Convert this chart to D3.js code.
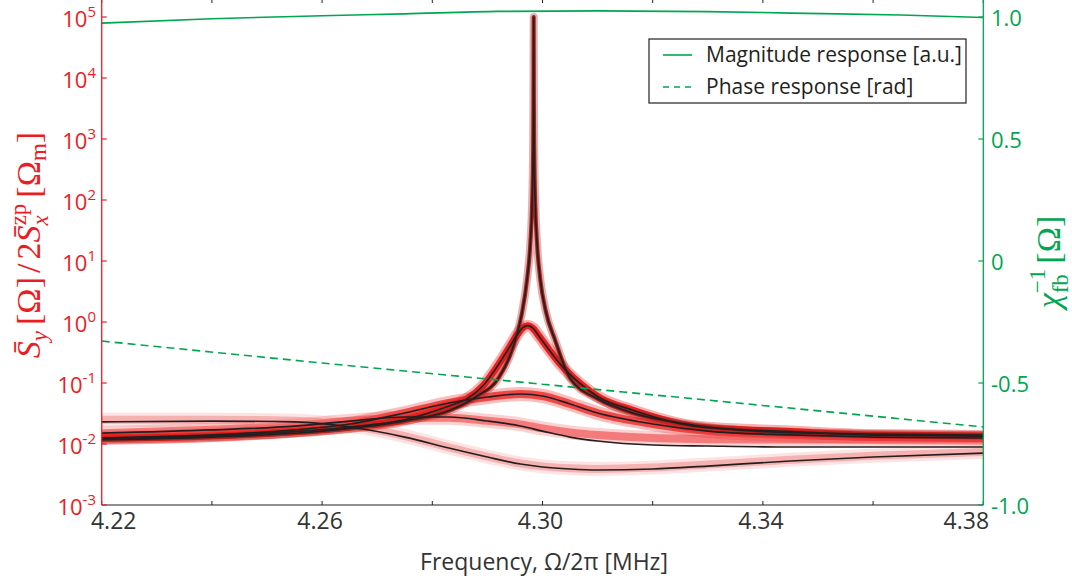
<!DOCTYPE html>
<html><head><meta charset="utf-8">
<script src="https://cdn.jsdelivr.net/npm/d3@7"></script>
<style>body{margin:0;background:#fff}svg{display:block}</style>
</head><body><svg id="c" width="1072" height="583"></svg>
<script>
// ---------- data ----------
const xTicks = [4.22, 4.24, 4.26, 4.28, 4.30, 4.32, 4.34, 4.36, 4.38];
const xTickLabels = ["4.22", "", "4.26", "", "4.30", "", "4.34", "", "4.38"];
const leftExponents = [-3, -2, -1, 0, 1, 2, 3, 4, 5];
const rightTicks = [-1, -0.5, 0, 0.5, 1];
const rightTickLabels = ["-1.0", "-0.5", "0", "0.5", "1.0"];
const legendNames = ["Magnitude response [a.u.]", "Phase response [rad]"];

const gridFreq = [4.22, 4.24, 4.255, 4.265, 4.275, 4.283, 4.29, 4.296, 4.30, 4.305, 4.31, 4.32, 4.33, 4.345, 4.36, 4.38];
const fitE  = [0.0230, 0.0238, 0.0230, 0.0190, 0.0130, 0.00859, 0.00612, 0.00470, 0.00420, 0.00389, 0.00375, 0.00389, 0.00435, 0.00526, 0.00612, 0.00711];
const dataE = [0.025, 0.025, 0.024, 0.020, 0.0135, 0.0088, 0.0062, 0.0048, 0.0043, 0.0040, 0.0039, 0.0041, 0.0046, 0.0055, 0.0064, 0.0074];
const fitD  = [0.0151, 0.0170, 0.0197, 0.0238, 0.0277, 0.0277, 0.0238, 0.0197, 0.0163, 0.0130, 0.0112, 0.00963, 0.00927, 0.00893, 0.00893, 0.00893];
const dataD = [0.0150, 0.0172, 0.020, 0.024, 0.027, 0.027, 0.024, 0.021, 0.018, 0.0155, 0.014, 0.0125, 0.012, 0.0118, 0.0118, 0.0118];
const fitC  = [0.01253, 0.01406, 0.0170, 0.0213, 0.0322, 0.0470, 0.0589, 0.0660, 0.0612, 0.0453, 0.0322, 0.0213, 0.0163, 0.01406, 0.0130, 0.01253];

const bFreq = [4.22, 4.24, 4.255, 4.265, 4.275, 4.283, 4.2863, 4.2892, 4.2923, 4.2941, 4.2953, 4.2964, 4.2973, 4.2982, 4.2994, 4.3012, 4.3031, 4.3067, 4.3103, 4.3163, 4.3285, 4.345, 4.36, 4.38];
const fitB  = [0.0125, 0.0135, 0.016, 0.019, 0.025, 0.042, 0.055, 0.09, 0.22, 0.40, 0.60, 0.80, 0.87, 0.80, 0.58, 0.35, 0.21, 0.10, 0.058, 0.036, 0.019, 0.016, 0.014, 0.0135];

const aFreq = [4.22, 4.24, 4.255, 4.265, 4.275, 4.283, 4.288, 4.292, 4.2945, 4.2962, 4.2972, 4.2978, 4.2981, 4.2983, 4.29836, 4.2984, 4.29844, 4.2985, 4.2987, 4.299, 4.2996, 4.3006, 4.3023, 4.305, 4.31, 4.316, 4.325, 4.34, 4.36, 4.38];
const fitA  = [0.0118, 0.013, 0.015, 0.018, 0.024, 0.035, 0.06, 0.12, 0.35, 1.3, 5, 20, 80, 700, 4500, 100000, 4500, 700, 80, 20, 5, 1.5, 0.5, 0.12, 0.055, 0.033, 0.022, 0.016, 0.0145, 0.014];

const magFreq   = [4.22, 4.24, 4.26, 4.275, 4.292, 4.31, 4.33, 4.345, 4.365, 4.38];
const magnitude = [0.975, 0.993, 1.005, 1.013, 1.023, 1.025, 1.022, 1.016, 1.008, 0.998];
const phaseFreq = [4.22, 4.26, 4.30, 4.34, 4.38];
const phase     = [-0.328, -0.418, -0.505, -0.592, -0.68];

// ---------- setup ----------
const RED = "#ec1c24", GREEN = "#00a650", INK = "#231f20";
const svg = d3.select("#c");
const L = 101.7, R = 983.3, T = -1, B = 505;
const x = d3.scaleLinear().domain([4.22, 4.38]).range([L, R]);
const yL = d3.scaleLog().domain([1e-3, 1e5]).range([B, 17]);
const yR = d3.scaleLinear().domain([-1, 1]).range([B, 17]);

svg.append("defs").append("clipPath").attr("id", "clip")
  .append("rect").attr("x", L).attr("y", T).attr("width", R - L).attr("height", B - T);
const plot = svg.append("g").attr("clip-path", "url(#clip)");

const lineL = d3.line().x(d => x(d[0])).y(d => yL(d[1])).curve(d3.curveMonotoneX);
const lineR = d3.line().x(d => x(d[0])).y(d => yR(d[1])).curve(d3.curveMonotoneX);
const zip = (a, b) => a.map((v, i) => [v, b[i]]);

// noisy measured traces (drawn as bands)
const bands = [
  {f: gridFreq, v: dataE, c: "#f6b1b1", w: 8, h: 6},
  {f: gridFreq, v: dataD, c: "#f37b7b", w: 8, h: 6},
  {f: gridFreq, v: fitC,  c: "#ef4646", w: 8, h: 6},
  {f: bFreq,    v: fitB,  c: "#e8201f", w: 7, h: 5},
  {f: aFreq,    v: fitA,  c: "#a8221c", w: 4, h: 4}
];
bands.forEach(b => {
  const d = zip(b.f, b.v);
  plot.append("path").attr("d", lineL(d)).attr("fill", "none")
    .attr("stroke", b.c).attr("stroke-width", b.w + b.h).attr("stroke-opacity", 0.35)
    .attr("stroke-linejoin", "round");
  plot.append("path").attr("d", lineL(d)).attr("fill", "none")
    .attr("stroke", b.c).attr("stroke-width", b.w).attr("stroke-linejoin", "round");
});

// fits
[[gridFreq, fitE], [gridFreq, fitD], [gridFreq, fitC], [bFreq, fitB], [aFreq, fitA]].forEach(p => {
  plot.append("path").attr("d", lineL(zip(p[0], p[1]))).attr("fill", "none")
    .attr("stroke", INK).attr("stroke-width", 1.7).attr("stroke-linejoin", "round");
});

// feedback response
plot.append("path").attr("d", lineR(zip(magFreq, magnitude))).attr("fill", "none")
  .attr("stroke", GREEN).attr("stroke-width", 1.6);
plot.append("path").attr("d", lineR(zip(phaseFreq, phase))).attr("fill", "none")
  .attr("stroke", GREEN).attr("stroke-width", 1.6).attr("stroke-dasharray", "8,5");

// ---------- axes ----------
const FONT = "'Open Sans', sans-serif";
svg.append("line").attr("x1", L).attr("x2", R).attr("y1", B).attr("y2", B).attr("stroke", INK).attr("stroke-width", 1.2);
svg.append("line").attr("x1", L).attr("x2", R).attr("y1", T).attr("y2", T).attr("stroke", INK).attr("stroke-width", 1.2);
xTicks.forEach((t, i) => {
  svg.append("line").attr("x1", x(t)).attr("x2", x(t)).attr("y1", B).attr("y2", B - 4).attr("stroke", INK);
  svg.append("line").attr("x1", x(t)).attr("x2", x(t)).attr("y1", T).attr("y2", T + 4).attr("stroke", INK);
  if (xTickLabels[i]) {
    const off = i === 0 ? 12 : (i === xTicks.length - 1 ? -17 : -2);
    svg.append("text").attr("x", x(t) + off).attr("y", 529).attr("text-anchor", "middle")
      .attr("font-family", FONT).attr("font-size", 23).attr("fill", "#333").text(xTickLabels[i]);
  }
});
svg.append("text").attr("x", 544).attr("y", 570).attr("text-anchor", "middle")
  .attr("font-family", FONT).attr("font-size", 23).attr("fill", "#333").text("Frequency, Ω/2π [MHz]");

// left axis
svg.append("line").attr("x1", L).attr("x2", L).attr("y1", T).attr("y2", B).attr("stroke", RED).attr("stroke-width", 1.3);
leftExponents.forEach(e => {
  const yy = yL(Math.pow(10, e));
  svg.append("line").attr("x1", L).attr("x2", L + 5).attr("y1", yy).attr("y2", yy).attr("stroke", RED).attr("stroke-width", 1.2);
  const t = svg.append("text").attr("x", 96).attr("y", yy + 10).attr("text-anchor", "end")
    .attr("font-family", FONT).attr("font-size", 22).attr("fill", RED);
  t.append("tspan").text("10");
  t.append("tspan").attr("font-size", 15).attr("dy", -10).text(String(e));
});

// right axis
svg.append("line").attr("x1", R).attr("x2", R).attr("y1", T).attr("y2", B).attr("stroke", GREEN).attr("stroke-width", 1.3);
rightTicks.forEach((t, i) => {
  const yy = yR(t);
  svg.append("line").attr("x1", R).attr("x2", R - 5).attr("y1", yy).attr("y2", yy).attr("stroke", GREEN).attr("stroke-width", 1.2);
  svg.append("text").attr("x", 991).attr("y", yy + 9).attr("font-family", FONT).attr("font-size", 22)
    .attr("fill", GREEN).text(rightTickLabels[i]);
});

// left title (math)
const MATH = "'Liberation Serif', 'DejaVu Serif', serif";
const lt = svg.append("text").attr("transform", "translate(40,245) rotate(-90)")
  .attr("text-anchor", "middle").attr("font-family", MATH).attr("font-size", 34).attr("fill", RED);
lt.append("tspan").attr("font-style", "italic").text("S\u0304");
lt.append("tspan").attr("font-style", "italic").attr("font-size", 23).attr("dy", 7).text("y");
lt.append("tspan").attr("dy", -7).attr("dx", 6).text("[Ω]");
lt.append("tspan").attr("dx", 4).text("/");
lt.append("tspan").attr("dx", 4).text("2");
lt.append("tspan").attr("font-style", "italic").text("S\u0304");
lt.append("tspan").attr("font-style", "italic").attr("font-size", 23).attr("dy", 8).text("x");
lt.append("tspan").attr("font-size", 23).attr("dx", -10).attr("dy", -22).text("zp");
lt.append("tspan").attr("dy", 14).attr("dx", 6).text("[Ω");
lt.append("tspan").attr("font-size", 23).attr("dy", 6).text("m");
lt.append("tspan").attr("dy", -6).text("]");

// right title (math)
const rt = svg.append("text").attr("transform", "translate(1060,262) rotate(-90)")
  .attr("text-anchor", "middle").attr("font-family", MATH).attr("font-size", 34).attr("fill", GREEN);
rt.append("tspan").attr("font-style", "italic").text("χ");
rt.append("tspan").attr("font-size", 23).attr("dy", 8).text("fb");
rt.append("tspan").attr("font-size", 23).attr("dx", -19).attr("dy", -23).text("−1");
rt.append("tspan").attr("dy", 15).attr("dx", 5).text("[Ω]");

// legend
const lg = svg.append("g");
lg.append("rect").attr("x", 649).attr("y", 39).attr("width", 317).attr("height", 64)
  .attr("fill", "#fff").attr("stroke", INK).attr("stroke-width", 1.2);
legendNames.forEach((n, i) => {
  const yy = 55 + i * 32;
  lg.append("line").attr("x1", 663).attr("x2", 692).attr("y1", yy).attr("y2", yy)
    .attr("stroke", GREEN).attr("stroke-width", 1.6).attr("stroke-dasharray", i ? "6,5" : null);
  lg.append("text").attr("x", 706).attr("y", yy + 7).attr("font-family", FONT).attr("font-size", 21)
    .attr("fill", INK).text(n);
});
</script></body></html>
